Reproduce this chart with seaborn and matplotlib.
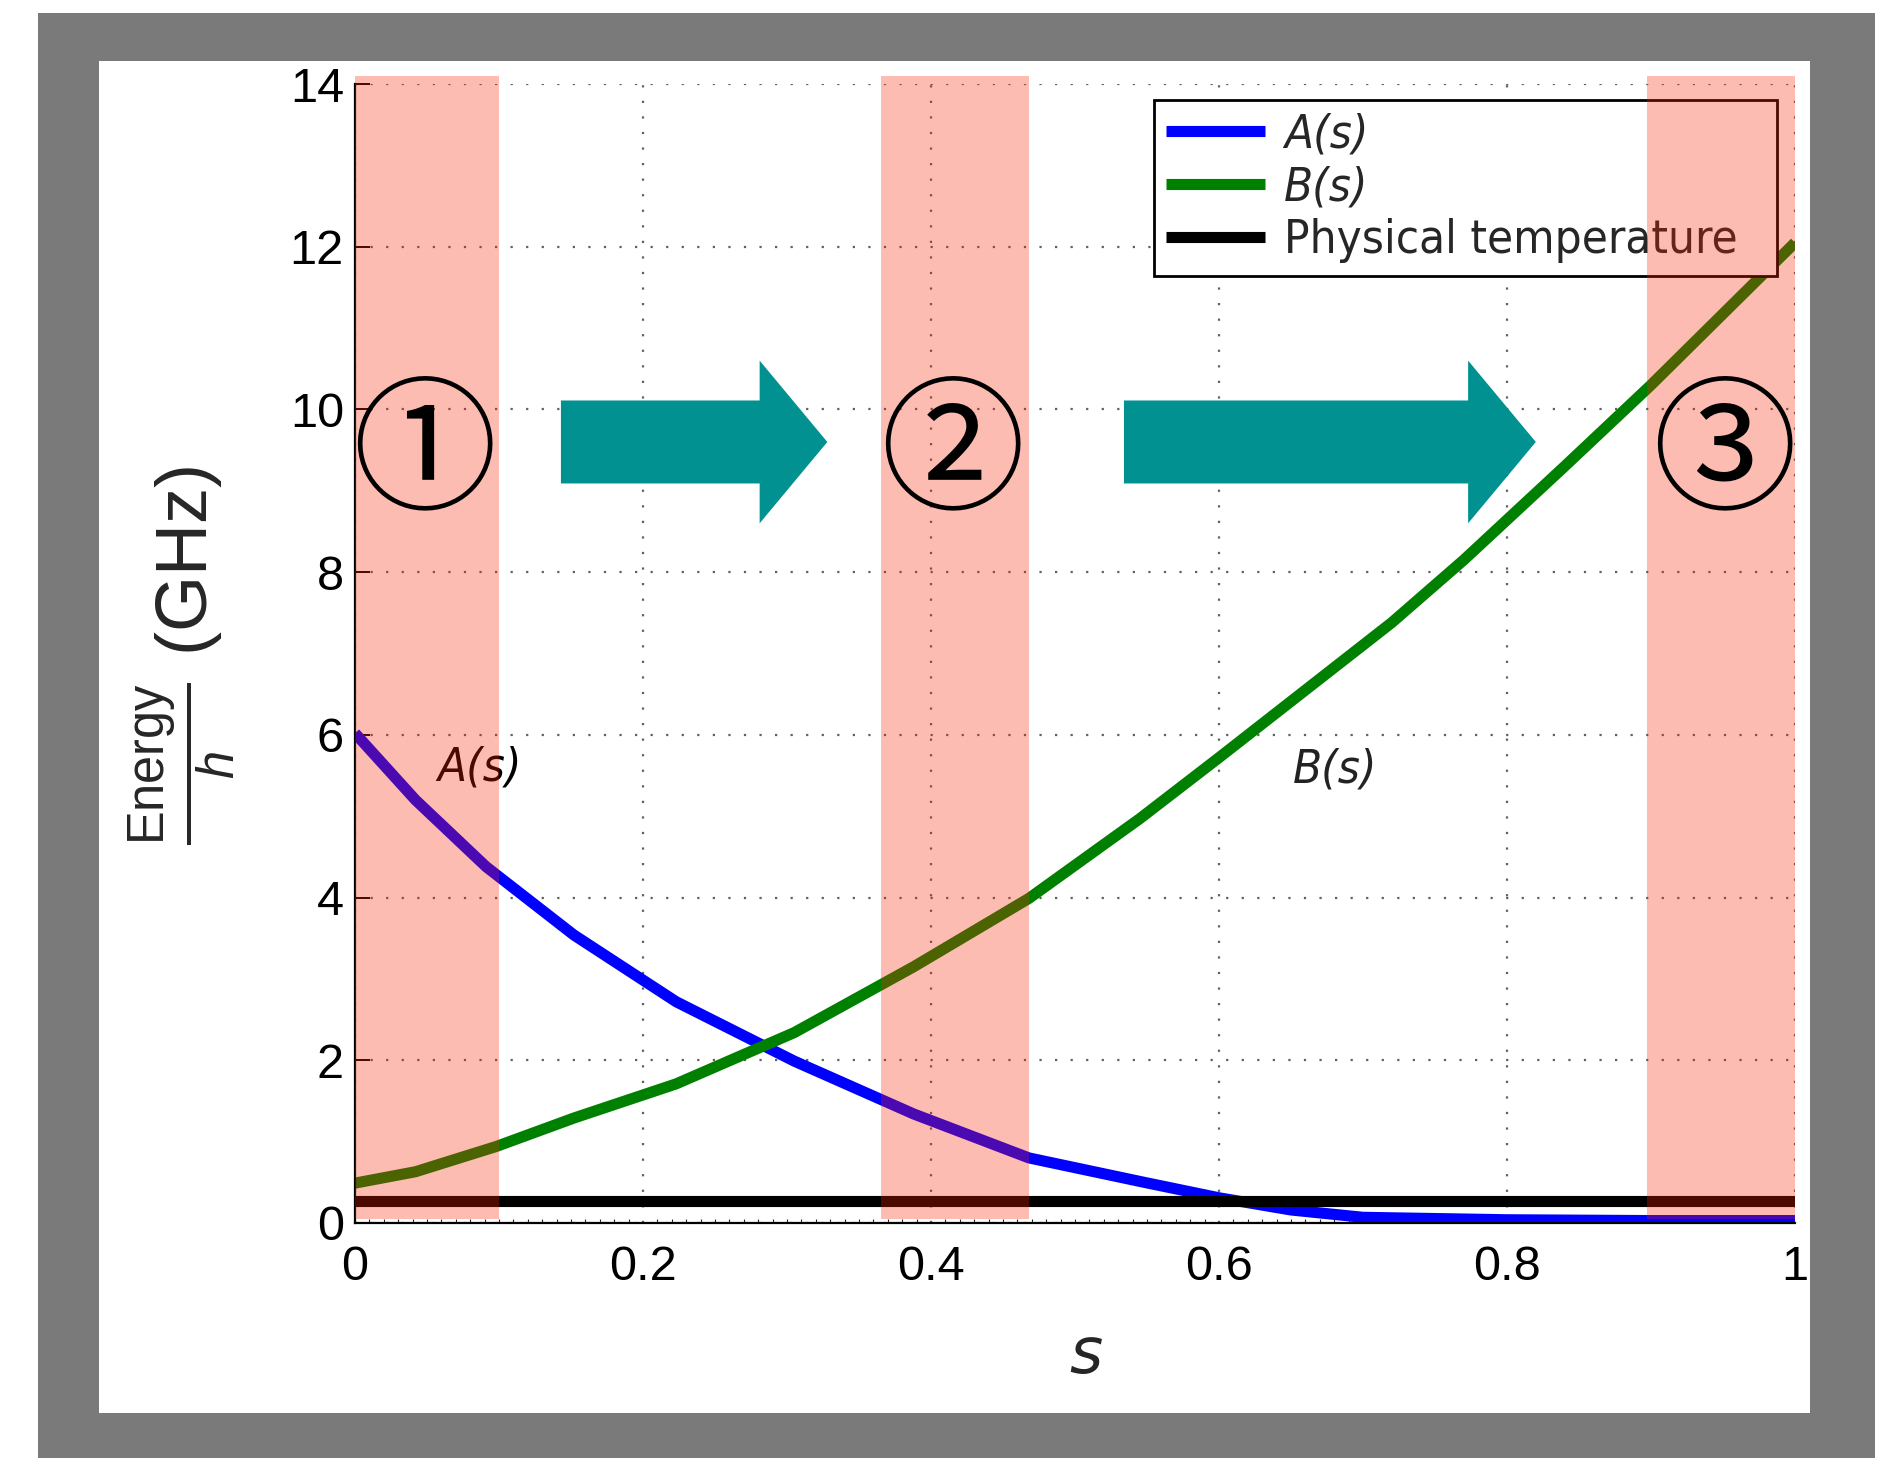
import pandas as pd
import matplotlib
matplotlib.use("Agg")
import matplotlib.pyplot as plt
import seaborn as sns
from matplotlib.patches import Rectangle
from matplotlib.ticker import MultipleLocator

# annealing schedule
s_A = [0, 0.042, 0.091, 0.152, 0.223, 0.305, 0.388, 0.468, 0.548, 0.60, 0.65, 0.70, 0.80, 0.90, 1.0]
A_vals = [6.02, 5.20, 4.38, 3.54, 2.72, 1.99, 1.34, 0.80, 0.50, 0.31, 0.16, 0.07, 0.04, 0.03, 0.03]

s_B = [0, 0.042, 0.098, 0.152, 0.223, 0.305, 0.388, 0.468, 0.545, 0.60, 0.66, 0.72, 0.77, 0.84, 0.90, 0.98, 1.0]
B_vals = [0.49, 0.63, 0.94, 1.29, 1.71, 2.34, 3.15, 3.99, 4.97, 5.72, 6.55, 7.38, 8.15, 9.30, 10.30, 11.70, 12.05]

s_T = [0, 1.0]
T_vals = [0.27, 0.27]

# highlighted regions (s ranges) and their markers
bands = [(0.0, 0.1), (0.365, 0.468), (0.897, 1.0)]
region_labels = ["①", "②", "③"]
region_s = [0.048, 0.4146, 0.951]
# arrows: (start s, end s)
arrows = [(0.143, 0.328), (0.534, 0.820)]

sns.set_style("white")
plt.rcParams["mathtext.fontset"] = "custom"
plt.rcParams["mathtext.rm"] = "Liberation Sans"
plt.rcParams["mathtext.it"] = "Liberation Sans:italic"

fig = plt.figure(figsize=(18.85, 14.58), dpi=100, facecolor="white")
W, H = 1885, 1458
# grey frame and white panel behind the plot
fig.add_artist(Rectangle((38 / W, 0), (1875 - 38) / W, 1 - 13 / H, transform=fig.transFigure,
                         facecolor="#7a7a7a", edgecolor="none", zorder=-2))
fig.add_artist(Rectangle((99 / W, 1 - 1413 / H), (1810 - 99) / W, (1413 - 61) / H,
                         transform=fig.transFigure, facecolor="white", edgecolor="none", zorder=-1))

ax = fig.add_axes([355 / W, 1 - 1223 / H, (1795 - 355) / W, (1223 - 84) / H])
ax.patch.set_alpha(0)

df = pd.concat([
    pd.DataFrame({"s": s_A, "E": A_vals, "curve": "A(s)"}),
    pd.DataFrame({"s": s_B, "E": B_vals, "curve": "B(s)"}),
    pd.DataFrame({"s": s_T, "E": T_vals, "curve": "Physical temperature"}),
])
sns.lineplot(data=df, x="s", y="E", hue="curve", palette=["#0000ff", "#008000", "#000000"],
             linewidth=8, sort=False, estimator=None, legend=False, ax=ax)
for ln in ax.lines:
    ln.set_solid_capstyle("butt")

ax.set_xlim(0, 1)
ax.set_ylim(0, 14)
ax.yaxis.set_major_locator(MultipleLocator(2))
ax.xaxis.set_minor_locator(MultipleLocator(0.01))
ax.set_xticks([0, 0.2, 0.4, 0.6, 0.8, 1.0])
ax.set_xticklabels(["0", "0.2", "0.4", "0.6", "0.8", "1"])
ax.grid(True, which="major", color="#606060", linewidth=1.6, linestyle=(0, (1, 6)))
ax.set_axisbelow(True)
for side in ["top", "right"]:
    ax.spines[side].set_visible(False)
for side in ["left", "bottom"]:
    ax.spines[side].set_color("black")
    ax.spines[side].set_linewidth(1.6)
ax.tick_params(axis="both", which="major", direction="in", length=11, width=1.4,
               labelsize=35, colors="black")
ax.tick_params(axis="x", which="major", pad=16)
ax.tick_params(axis="y", which="major", pad=8, left=True)
ax.tick_params(axis="x", which="minor", direction="in", length=3, width=0.8, bottom=True)
for lab in ax.get_xticklabels() + ax.get_yticklabels():
    lab.set_family("Liberation Sans")

ax.set_xlabel("s", fontsize=46, style="italic", family="DejaVu Sans")
ax.xaxis.label.set_va("baseline")
ax.xaxis.set_label_coords((1086 - 355) / 1440, (1223 - 1373) / 1139)
ax.set_ylabel("")
fig.text(182 / W, 1 - 655 / H, r"$\frac{\mathrm{Energy}}{h}$ (GHz)", rotation=90,
         ha="center", va="center", fontsize=52, family="Liberation Sans")

# curve names
ax.text(0.057, 5.44, "A(s)", fontsize=34, style="italic", family="DejaVu Sans",
        fontstretch="condensed", color="black", zorder=3)
ax.text(0.651, 5.42, "B(s)", fontsize=34, style="italic", family="DejaVu Sans",
        fontstretch="condensed", color="#222222", zorder=3)

handles = ax.lines[:3]
leg = ax.legend(handles, ["A(s)", "B(s)", "Physical temperature  "], loc="upper right",
                bbox_to_anchor=(0.9875, 0.986), borderaxespad=0, fancybox=False,
                framealpha=1, edgecolor="black", handlelength=2.1, handletextpad=0.4,
                labelspacing=0.17, borderpad=0.26,
                prop={"family": "DejaVu Sans", "size": 34, "stretch": "condensed"})
leg.get_frame().set_linewidth(2)
leg.set_zorder(5)
for t in leg.get_texts()[:2]:
    t.set_style("italic")

# translucent red bands drawn on top
for x0, x1 in bands:
    ax.fill_between([x0, x1], 0.05, 14.1, color="#fa2100", alpha=0.3, linewidth=0,
                    zorder=6, clip_on=False)

for x0, x1 in arrows:
    ax.arrow(x0, 9.6, x1 - x0, 0, width=1.02, head_width=2.0, head_length=0.047,
             length_includes_head=True, color="#009190", linewidth=0, zorder=4)

for lab, xs in zip(region_labels, region_s):
    ax.text(xs, 9.43, lab, fontsize=104, family=["Noto Sans CJK JP", "DejaVu Sans"],
            ha="center", va="center", color="black", zorder=7)

fig.savefig("out.png", dpi=100, facecolor="white")
